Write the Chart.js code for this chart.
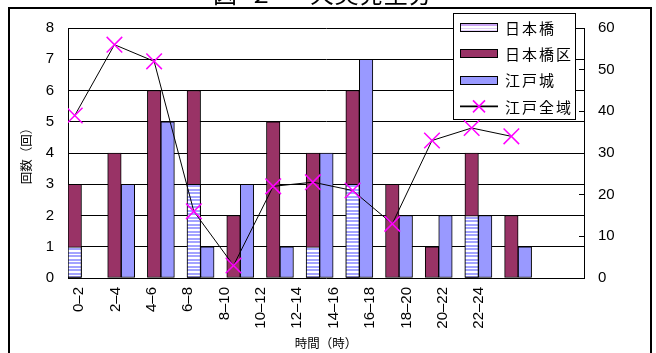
<!DOCTYPE html>
<html lang="ja">
<head>
<meta charset="utf-8">
<script src="https://cdn.jsdelivr.net/npm/chart.js@4.4.1/dist/chart.umd.min.js"></script>
<style>
  html, body { margin: 0; padding: 0; background: #fff; }
  canvas { display: block; }
</style>
</head>
<body>
<canvas id="c" width="656" height="353"></canvas>
<script>
// 時間帯（2時間ごと）
const timeLabels = ['0–2', '2–4', '4–6', '6–8', '8–10', '10–12', '12–14', '14–16', '16–18', '18–20', '20–22', '22–24'];

// 回数（左軸）
const nihonbashi   = [1, 0, 0, 3, 0, 0, 1, 3, 0, 0, 2, 0];
const nihonbashiKu = [3, 4, 6, 6, 2, 5, 4, 6, 3, 1, 4, 2];
const edojo        = [0, 3, 5, 1, 3, 1, 4, 7, 2, 2, 2, 1];

// 江戸全域（右軸）
const edoAll = [39, 56, 52, 16, 3, 22, 23, 21, 13, 33, 36, 34];

const seriesNames = ['日本橋', '日本橋区', '江戸城', '江戸全域'];
const titleParts = ['図', '２', '火災発生分'];

const JP = '"Noto Sans CJK JP", sans-serif';
const LATIN = '"Liberation Sans", Arial, "Noto Sans CJK JP", sans-serif';

const canvas = document.getElementById('c');
const ctx = canvas.getContext('2d');

// horizontal white / lavender stripes for 日本橋
function stripePattern() {
  const tile = document.createElement('canvas');
  tile.width = 1; tile.height = 7;
  const g = tile.getContext('2d');
  g.fillStyle = '#ffffff';
  g.fillRect(0, 0, 1, 7);
  g.fillStyle = '#a3a3ff';
  g.fillRect(0, 0, 1, 2);
  g.fillRect(0, 3, 1, 2);
  return ctx.createPattern(tile, 'repeat');
}

const toPoints = arr => arr.map((v, i) => ({ x: i, y: v }));

// 日本橋 is drawn over 日本橋区 in the same slot; 江戸城 sits in the slot beside it
const barCommon = {
  type: 'bar',
  yAxisID: 'y',
  grouped: false,
  borderColor: '#000',
  borderWidth: 1,
  borderSkipped: false,
  barThickness: 13.5
};

// frame, clipped heading and boxed legend
const decor = {
  id: 'decor',
  afterDraw(chart) {
    const c = chart.ctx;
    c.save();

    c.strokeStyle = '#000';
    c.lineWidth = 2;
    c.strokeRect(9, 8, 642, 360);

    c.fillStyle = '#000';
    c.font = '24px ' + JP;
    c.textBaseline = 'alphabetic';
    c.textAlign = 'left';
    c.fillText(titleParts[0], 213, 3);
    c.fillText(titleParts[1], 249, 3);
    c.letterSpacing = '0.6px';
    c.fillText(titleParts[2], 310, 3);
    c.letterSpacing = '0px';

    // legend box
    const bx = 453, by = 13, bw = 123, bh = 107;
    c.fillStyle = '#fff';
    c.fillRect(bx, by, bw, bh);
    c.strokeStyle = '#000';
    c.lineWidth = 1;
    c.strokeRect(bx + 0.5, by + 0.5, bw - 1, bh - 1);

    const ds = chart.data.datasets;
    c.font = '15px ' + JP;
    c.textBaseline = 'middle';
    for (let i = 0; i < ds.length; i++) {
      const yc = 27.5 + i * 26.3;
      const sx = 460, sw = 38, sh = 9;
      if (ds[i].type === 'line') {
        c.strokeStyle = '#000';
        c.lineWidth = 1.6;
        c.beginPath();
        c.moveTo(sx, yc);
        c.lineTo(sx + sw, yc);
        c.stroke();
        c.strokeStyle = ds[i].pointBorderColor;
        c.fillStyle = ds[i].pointBorderColor;
        Chart.helpers.drawPoint(c, { pointStyle: 'crossRot', radius: 8.5, borderWidth: 1.5, rotation: 0 }, sx + sw / 2, yc);
      } else {
        const top = Math.round(yc - sh / 2);
        if (i === 0) {
          c.fillStyle = '#fff';
          c.fillRect(sx, top, sw, sh);
          c.fillStyle = '#c9a3f3';
          c.fillRect(sx, top + 1, sw, 2);
          c.fillStyle = '#e3d0fa';
          c.fillRect(sx, top + 5, sw, 1);
          c.fillRect(sx, top + 7, sw, 1);
        } else {
          c.fillStyle = ds[i].backgroundColor;
          c.fillRect(sx, top, sw, sh);
        }
        c.strokeStyle = '#000';
        c.lineWidth = 1;
        c.strokeRect(sx + 0.5, top + 0.5, sw - 1, sh - 1);
      }
      c.fillStyle = '#000';
      c.letterSpacing = '2px';
      c.textAlign = 'left';
      c.fillText(ds[i].label, 505, yc + 0.5);
      c.letterSpacing = '0px';
    }
    c.restore();
  }
};

new Chart(ctx, {
  type: 'bar',
  data: {
    datasets: [
      Object.assign({}, barCommon, {
        label: seriesNames[0], data: toPoints(nihonbashi), xAxisID: 'x',
        backgroundColor: stripePattern(), order: 1
      }),
      Object.assign({}, barCommon, {
        label: seriesNames[1], data: toPoints(nihonbashiKu), xAxisID: 'x',
        backgroundColor: '#993366', order: 2
      }),
      Object.assign({}, barCommon, {
        label: seriesNames[2], data: toPoints(edojo), xAxisID: 'xJo',
        backgroundColor: '#9999ff', order: 3
      }),
      {
        type: 'line',
        label: seriesNames[3],
        data: toPoints(edoAll),
        xAxisID: 'x',
        yAxisID: 'y2',
        order: 0,
        borderColor: '#000',
        borderWidth: 1,
        tension: 0,
        fill: false,
        pointStyle: 'crossRot',
        pointRadius: 11,
        pointBorderColor: '#ff00ff',
        pointBackgroundColor: '#ff00ff',
        pointBorderWidth: 1.5
      }
    ]
  },
  options: {
    responsive: false,
    animation: false,
    events: [],
    layout: { padding: { top: 26, left: 0, right: 0, bottom: 0 } },
    plugins: {
      legend: { display: false },
      tooltip: { enabled: false }
    },
    scales: {
      x: {
        type: 'linear', display: false, offset: false, bounds: 'data',
        min: -0.17, max: 12.83
      },
      xJo: {
        type: 'linear', display: false, offset: false, bounds: 'data',
        min: -0.51, max: 12.49
      },
      xLab: {
        type: 'linear', position: 'bottom', offset: false, bounds: 'data',
        min: -0.311, max: 13.888,
        grid: { display: false, drawTicks: false, offset: false },
        border: { display: false },
        afterBuildTicks: s => { s.ticks = timeLabels.map((_, i) => ({ value: i })); },
        afterFit: s => { s.height = 75; },
        ticks: {
          autoSkip: false, minRotation: 90, maxRotation: 90, padding: 9,
          color: '#000', font: { family: LATIN, size: 15 },
          callback: (v, i) => timeLabels[i]
        },
        title: {
          display: true, text: '時間（時）', color: '#000',
          font: { family: JP, size: 12.5 }, padding: { top: 0, bottom: 2 }
        }
      },
      y: {
        type: 'linear', position: 'left',
        min: 0, max: 8,
        afterFit: s => { s.width = 68; },
        ticks: { stepSize: 1, padding: 14, color: '#000', font: { family: LATIN, size: 15 } },
        grid: { color: '#000', lineWidth: 1, drawTicks: false },
        border: { display: true, color: '#000', width: 1 },
        title: {
          display: true, text: '回数（回）', color: '#000',
          font: { family: JP, size: 12.5 }, padding: { top: 19, bottom: 0 }
        }
      },
      y2: {
        type: 'linear', position: 'right',
        min: 0, max: 60,
        afterFit: s => { s.width = 72; },
        ticks: { stepSize: 10, padding: 19, color: '#000', font: { family: LATIN, size: 15 } },
        grid: { drawOnChartArea: false, color: '#000', tickLength: -5 },
        border: { display: true, color: '#000', width: 1 }
      }
    }
  },
  plugins: [decor]
});
</script>
</body>
</html>
